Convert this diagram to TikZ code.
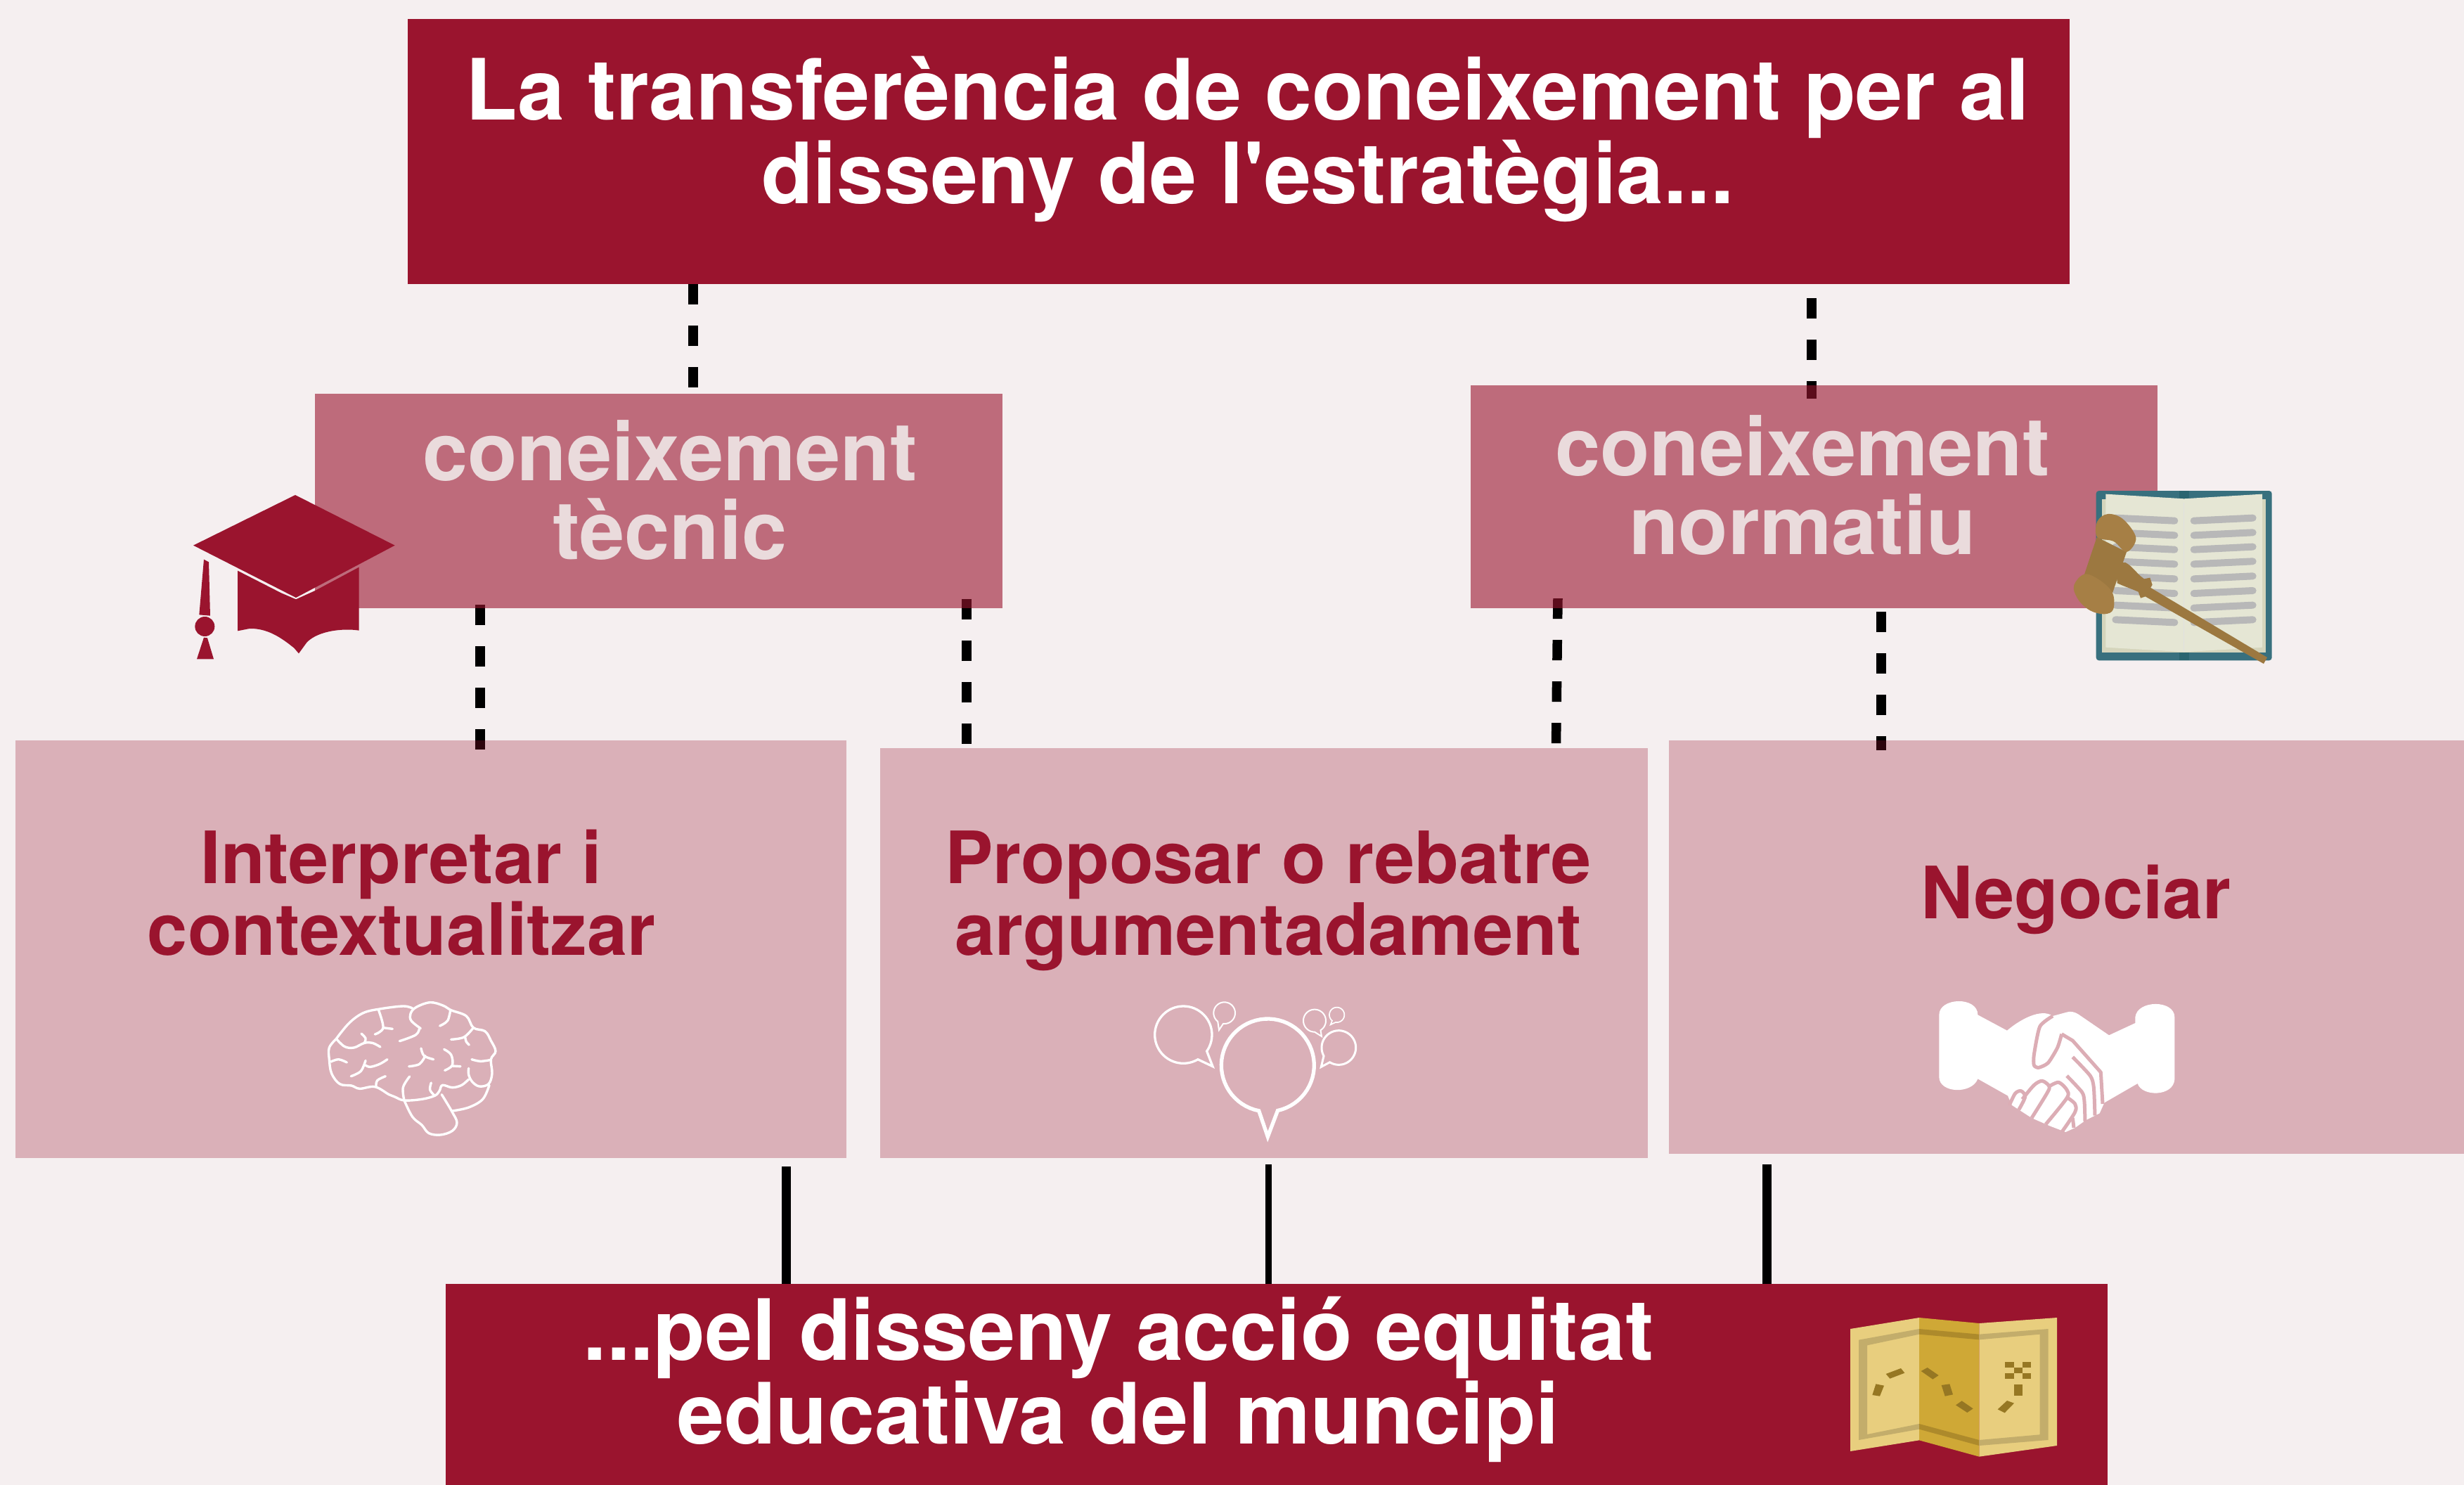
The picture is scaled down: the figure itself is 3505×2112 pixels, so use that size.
\documentclass[tikz,border=0pt]{standalone}
\usepackage{fontspec}
\usetikzlibrary{backgrounds}
\newfontfamily\hv{TeX Gyre Heros}
\definecolor{bgc}{HTML}{F5EFF0}
\definecolor{dark}{HTML}{9A142E}
\definecolor{midtxt}{HTML}{EADBDC}
\definecolor{mapa}{HTML}{E8CE7E}
\definecolor{mapb}{HTML}{CFA836}
\definecolor{mapc}{HTML}{C3AD6B}
\definecolor{mapd}{HTML}{AD8A2B}
\definecolor{mape}{HTML}{967723}
\definecolor{teal}{HTML}{38707E}
\definecolor{teald}{HTML}{2A6570}
\definecolor{page}{HTML}{E5E6D4}
\definecolor{pageside}{HTML}{D5D5BC}
\definecolor{bookline}{HTML}{B8B8B8}
\definecolor{gavel}{HTML}{9C7840}
\definecolor{gavelb}{HTML}{A67F45}
\definecolor{lite}{HTML}{DCADB5}
\newlength{\pxu}\setlength{\pxu}{0.01cm}
\newcommand{\bubble}[8]{%
  \draw[white,line width=#8\pxu,miter limit=10] plot[domain=#4:#5,samples=60] ({#1+#3*cos(\x)},{#2+#3*sin(\x)}) -- (#6,#7) -- cycle;}
\pgfdeclarelayer{connlayer}
\pgfsetlayers{background,connlayer,main}
\tikzset{
  x=0.01cm,y=-0.01cm,
  box/.style={rectangle,inner sep=0pt,outer sep=0pt},
  titlebox/.style={box,fill=dark},
  midbox/.style={box,fill=dark,fill opacity=0.60},
  litebox/.style={box,fill=dark,fill opacity=0.285},
  bigtxt/.style={inner sep=0pt,align=center,text=white,font=\fontsize{34.2}{34}\selectfont\hv\bfseries},
  midlabel/.style={inner sep=0pt,align=center,text=midtxt,font=\fontsize{32.8}{32}\selectfont\hv\bfseries},
  boxlabel/.style={inner sep=0pt,align=center,text=dark,font=\fontsize{29.2}{29}\selectfont\hv\bfseries},
  dashconn/.style={draw=black,line width=13.5\pxu,dash pattern=on 29\pxu off 30\pxu},
  solidconn/.style={draw=black},
  brainl/.style={white,line width=3.4\pxu,line cap=round,line join=round},
  handl/.style={lite,line width=5\pxu,line join=round},
}
\begin{document}
\begin{tikzpicture}
\useasboundingbox (0,0) rectangle (3505,2112);
\begin{scope}[on background layer]
\fill[bgc] (0,0) rectangle (3505,2112);
\end{scope}
% boxes
\node[titlebox,minimum width=23.62cm,minimum height=3.77cm] (title) at (1762,215.5) {};
\node[midbox,minimum width=9.78cm,minimum height=3.05cm] (tech) at (937,712.5) {};
\node[midbox,minimum width=9.77cm,minimum height=3.17cm] (norm) at (2580.5,706.5) {};
\node[litebox,minimum width=11.82cm,minimum height=5.94cm] (interp) at (613,1350) {};
\node[litebox,minimum width=10.92cm,minimum height=5.83cm] (prop) at (1798,1355.5) {};
\node[litebox,minimum width=11.31cm,minimum height=5.88cm] (neg) at (2939.5,1347) {};
\node[titlebox,minimum width=23.62cm,minimum height=2.86cm] (bottom) at (1816,1969) {};
% connector guides
\coordinate (c1) at (986,0);
\coordinate (c2) at (2577,0);
\coordinate (c3) at (683,0);
\coordinate (c4) at (1375,0);
\coordinate (c5) at (2216,0);
\coordinate (c5b) at (2213.5,0);
\coordinate (c6) at (2676,0);
\coordinate (s1) at (1118,0);
\coordinate (s2) at (1804,0);
\coordinate (s3) at (2513,0);
\begin{pgfonlayer}{connlayer}
% dashed connectors
\draw[dashconn] (title.south -| c1) -- ([yshift=0.08cm]tech.north -| c1);
\draw[dashconn] ([yshift=-0.2cm]title.south -| c2) -- ([yshift=-0.19cm]norm.north -| c2);
\draw[dashconn] ([yshift=0.05cm]tech.south -| c3) -- ([yshift=-0.17cm]interp.north -| c3);
\draw[dashconn] ([yshift=0.13cm]tech.south -| c4) -- ([yshift=0.04cm]prop.north -| c4);
\draw[dashconn] ([yshift=0.14cm]norm.south -| c5) -- ([yshift=0.05cm]prop.north -| c5b);
\draw[dashconn] ([yshift=-0.05cm]norm.south -| c6) -- ([yshift=-0.14cm]neg.north -| c6);
% solid connectors
\draw[solidconn,line width=13\pxu] ([yshift=-0.12cm]interp.south -| s1) -- (bottom.north -| s1);
\draw[solidconn,line width=9\pxu] ([yshift=-0.09cm]prop.south -| s2) -- (bottom.north -| s2);
\draw[solidconn,line width=13\pxu] ([yshift=-0.15cm]neg.south -| s3) -- (bottom.north -| s3);
\end{pgfonlayer}
% labels
\node[bigtxt] (t1) at (1775,198) {La transferència de coneixement per al\\disseny de l'estratègia...};
\node[midlabel] (t2) at (953,697) {coneixement\\tècnic};
\node[midlabel] (t3) at (2564,690) {coneixement\\normatiu};
\node[boxlabel] (t4) at (571,1270) {Interpretar i\\contextualitzar};
\node[boxlabel] (t5) at (1804,1281) {Proposar o rebatre\\argumentadament};
\node[boxlabel] (t6) at (2953,1279) {Negociar};
\node[bigtxt] (t7) at (1591,1962) {...pel disseny acció equitat\\educativa del muncipi};
% graduation cap
\begin{scope}[shift={(240,680)},scale=1/3]
\fill[dark] (294,395) -- (480,490) -- (543,517) -- (625,480) -- (812,380) -- (812,650) .. controls (745,640) and (640,650) .. (590,700) -- (555,748) -- (535,725) .. controls (480,680) and (420,640) .. (345,642) -- (294,652) -- cycle;
\fill[dark] (105,287) -- (540,72) -- (965,287) -- (543,510) -- cycle;
\fill[dark] (150,347) -- (171,358) -- (177,587) -- (130,583) -- cycle;
\fill[dark] (154,633) circle (42);
\fill[dark] (150,680) -- (165,682) -- (192,772) -- (120,772) -- cycle;
\end{scope}
% book and gavel
\begin{scope}[shift={(2930,670)},scale=1/3]
\fill[teal,rounded corners=4\pxu] (155,84) rectangle (905,808);
\fill[teald] (510,84) rectangle (552,118);
\fill[teald] (510,773) rectangle (552,808);
\fill[pageside] (180,120) rectangle (878,773);
\fill[page] (196,98) -- (530,118) -- (864,98) -- (864,752) -- (530,772) -- (196,752) -- cycle;
\draw[color=black!12,line width=1.5\pxu] (530,135) -- (530,772);
\foreach \yy in {200,262,323,385,448,510,572,634}{
  \draw[bookline,line width=10\pxu,line cap=round] (238,\yy) -- (490,\yy+12);
  \draw[bookline,line width=10\pxu,line cap=round] (572,\yy+12) -- (824,\yy);
}
\fill[gavel] (375,490) -- (885,795) -- (870,822) -- (365,535) -- cycle;
\fill[gavel] (240,390) -- (280,390) .. controls (310,405) and (330,440) .. (360,460) -- (385,455) -- (395,485) -- (365,535) -- (345,542) -- (335,515) .. controls (300,500) and (270,490) .. (245,478) -- cycle;
\fill[gavel] (158,282) -- (105,440) -- (225,520) -- (285,345) -- cycle;
\fill[gavelb] plot[smooth cycle,tension=0.6] coordinates {(160,215) (205,183) (270,205) (325,285) (285,345) (230,300) (160,282)};
\fill[gavelb] plot[smooth cycle,tension=0.6] coordinates {(105,440) (60,490) (80,550) (130,595) (190,610) (228,590) (225,520) (170,465)};
\end{scope}
% brain
\begin{scope}[shift={(440,1400)},scale=1/3,smooth,tension=0.6]
\draw[brainl] plot coordinates {(115,232) (170,165) (230,122) (300,105) (400,93) (440,102)};
\draw[brainl] plot coordinates {(475,188) (435,155) (432,125) (455,98) (515,77) (570,90) (605,110) (670,135) (700,185) (750,200) (775,240) (795,285) (775,320) (780,380) (765,425) (725,435) (695,415) (680,385) (680,358)};
\draw[brainl] plot coordinates {(115,232) (85,270) (85,320) (95,380) (130,425) (180,432) (215,445) (280,437) (340,470) (365,480) (405,495) (480,490) (535,475) (555,455) (568,430) (610,440) (650,430) (680,405)};
\draw[brainl] plot coordinates {(285,437) (290,410) (325,392)};
\draw[brainl] plot coordinates {(405,495) (400,440) (428,393)};
\draw[brainl] plot coordinates {(405,495) (440,565) (480,600) (510,635) (560,642) (610,625) (630,590) (610,545) (565,470)};
\draw[brainl] plot coordinates {(610,540) (680,525) (740,490) (768,430)};
\draw[brainl] plot coordinates {(535,475) (515,450) (520,420)};
\draw[brainl] plot coordinates {(115,232) (150,265) (190,270) (235,250) (270,250) (303,267)};
\draw[brainl] plot coordinates {(222,210) (240,230) (235,250)};
\draw[brainl] plot coordinates {(92,330) (125,320) (160,333)};
\draw[brainl] plot coordinates {(178,392) (220,370) (240,325)};
\draw[brainl] plot coordinates {(240,345) (260,352) (300,340) (333,320)};
\draw[brainl] plot coordinates {(295,108) (315,185) (280,213)};
\draw[brainl] plot coordinates {(315,185) (355,190)};
\draw[brainl] plot coordinates {(470,185) (455,215) (385,242)};
\draw[brainl] plot coordinates {(557,177) (590,155) (602,110)};
\draw[brainl] plot coordinates {(605,235) (660,225) (700,185)};
\draw[brainl] plot coordinates {(665,225) (670,245) (682,258)};
\draw[brainl] plot coordinates {(693,320) (730,328) (775,322)};
\draw[brainl] plot coordinates {(477,273) (490,305) (530,320)};
\draw[brainl] plot coordinates {(495,305) (470,340) (425,350)};
\draw[brainl] plot coordinates {(575,277) (605,300) (610,345) (578,367)};
\draw[brainl] plot coordinates {(610,348) (645,350)};
\end{scope}
% bubbles
\begin{scope}[shift={(1620,1400)},scale=1/3]
\bubble{550}{345}{198}{101}{437.6}{550}{650}{5.3}
\bubble{190}{215}{122}{59.5}{395}{315}{350}{3.3}
\bubble{365}{122}{46}{128}{456}{342}{195}{2}
\bubble{750}{155}{48}{90}{418}{780}{222}{2}
\bubble{845}{130}{32}{129}{459}{818}{172}{1.7}
\bubble{853}{270}{73}{151}{481.5}{778}{352}{3}
\end{scope}
% handshake
\begin{scope}[shift={(2730,1400)},scale=1/3]
\fill[white] (85,130) .. controls (85,55) and (250,50) .. (250,130) -- (375,197) .. controls (430,150) and (520,100) .. (570,135) -- (625,120) .. controls (645,112) and (665,118) .. (680,128) -- (810,217) -- (922,165) -- (922,140) .. controls (930,65) and (1090,65) .. (1090,140) -- (1090,405) .. controls (1085,480) and (950,480) .. (932,423) -- (790,505) -- (770,550) -- (710,580) -- (665,612) -- (625,630) -- (560,605) -- (480,570) -- (395,515) -- (378,475) -- (250,403) .. controls (225,470) and (85,465) .. (85,395) -- cycle;
\draw[handl] plot[smooth,tension=0.4] coordinates {(570,135) (515,180) (490,300) (490,345) (510,355) (550,335) (590,270) (608,212)};
\draw[handl] (608,212) -- (655,240) -- (775,375) -- (783,510);
\draw[handl] plot[smooth,tension=0.4] coordinates {(655,310) (730,390) (745,440) (750,560)};
\draw[handl] plot[smooth,tension=0.4] coordinates {(630,390) (695,460) (705,500) (708,585)};
\draw[handl] plot[smooth,tension=0.5] coordinates {(385,515) (410,465) (435,455) (452,480) (425,535)};
\draw[handl] plot[smooth,tension=0.5] coordinates {(440,490) (490,430) (525,412) (555,435) (545,465) (480,570)};
\draw[handl] plot[smooth,tension=0.5] coordinates {(555,435) (595,418) (630,450) (630,485) (540,597)};
\draw[handl] plot[smooth,tension=0.5] coordinates {(632,483) (665,510) (665,545) (610,628)};
\draw[handl] (655,570) -- (660,612);
\end{scope}
% map
\begin{scope}[shift={(2610,1850)},scale=1/3]
\fill[mapa] (66,120) -- (360,72) -- (360,595) -- (66,642) -- cycle;
\fill[mapb] (360,72) -- (616,96) -- (616,665) -- (360,595) -- cycle;
\fill[mapa] (616,96) -- (948,72) -- (948,618) -- (616,665) -- cycle;
\fill[mapc] (102,167) -- (360,120) -- (360,143) -- (138,190) -- (138,570) -- (360,525) -- (360,548) -- (102,594) -- cycle;
\fill[mapd] (360,120) -- (616,143) -- (616,166) -- (360,143) -- cycle;
\fill[mapd] (360,525) -- (616,594) -- (616,618) -- (360,548) -- cycle;
\fill[mapc] (616,143) -- (911,120) -- (911,594) -- (616,618) -- (616,594) -- (875,571) -- (875,143) -- (616,166) -- cycle;
\fill[mape] (218,312) -- (282,288) -- (298,308) -- (235,332) -- cycle;
\fill[mape] (175,355) -- (210,362) -- (192,407) -- (160,402) -- cycle;
\fill[mape] (368,300) -- (395,285) -- (443,318) -- (418,335) -- cycle;
\fill[mape] (455,360) -- (490,355) -- (504,400) -- (470,407) -- cycle;
\fill[mape] (516,445) -- (542,427) -- (590,460) -- (565,477) -- cycle;
\fill[mape] (695,463) -- (735,426) -- (765,437) -- (725,478) -- cycle;
\fill[mape] (765,357) rectangle (801,405);
\fill[mape] (727,262) rectangle (765,286);
\fill[mape] (801,262) rectangle (838,286);
\fill[mape] (765,286) rectangle (801,310);
\fill[mape] (727,310) rectangle (765,333);
\fill[mape] (801,310) rectangle (838,333);
\end{scope}
\end{tikzpicture}
\end{document}
